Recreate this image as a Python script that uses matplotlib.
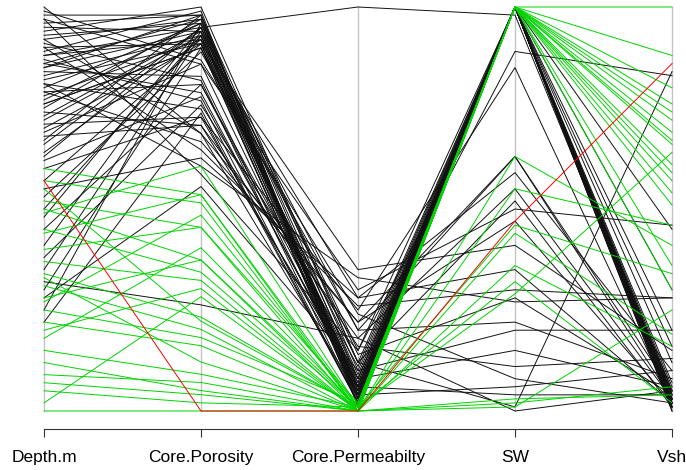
import matplotlib
matplotlib.use("Agg")
import matplotlib.pyplot as plt
import numpy as np

columns = ["Depth.m", "Core.Porosity", "Core.Permeabilty", "SW", "Vsh"]

# rows: depth, porosity, permeability, sw, vsh (already scaled to 0..1)
black_rows = [
    (0.98, 0.97, 0.03, 1.00, 0.02), (0.95, 0.93, 0.05, 1.00, 0.01),
    (0.92, 0.96, 0.02, 1.00, 0.03), (0.90, 0.90, 0.08, 1.00, 0.00),
    (0.88, 0.94, 0.04, 1.00, 0.04), (0.86, 0.78, 0.06, 1.00, 0.02),
    (0.85, 0.97, 0.03, 1.00, 0.01), (0.83, 0.92, 0.09, 1.00, 0.05),
    (0.81, 0.74, 0.02, 1.00, 0.03), (0.80, 0.95, 0.05, 1.00, 0.02),
    (0.78, 0.91, 0.07, 1.00, 0.04), (0.76, 0.89, 0.03, 1.00, 0.01),
    (0.75, 0.96, 0.10, 1.00, 0.06), (0.73, 0.93, 0.04, 1.00, 0.02),
    (0.71, 0.72, 0.06, 1.00, 0.03), (0.70, 0.90, 0.02, 1.00, 0.05),
    (0.68, 0.70, 0.08, 1.00, 0.02), (0.66, 0.94, 0.05, 1.00, 0.01),
    (0.94, 0.99, 0.12, 1.00, 0.04), (0.89, 0.98, 0.01, 1.00, 0.00),
    (0.84, 0.82, 0.04, 1.00, 0.07), (0.79, 0.80, 0.11, 1.00, 0.03),
    (0.64, 0.91, 0.03, 1.00, 0.02), (0.62, 0.77, 0.07, 1.00, 0.04),
    (0.87, 0.76, 0.02, 1.00, 0.01), (0.97, 0.85, 0.06, 1.00, 0.03),
    (0.35, 0.92, 0.04, 1.00, 0.02), (0.30, 0.89, 0.03, 1.00, 0.05),
    (0.25, 0.95, 0.06, 1.00, 0.01), (0.22, 0.73, 0.02, 1.00, 0.03),
    (0.41, 0.93, 0.05, 1.00, 0.02), (0.45, 0.80, 0.08, 1.00, 0.04),
    (0.82, 0.90, 0.05, 1.00, 0.45), (0.77, 0.95, 0.03, 1.00, 0.30),
    (0.72, 0.92, 0.06, 1.00, 0.20), (0.91, 0.81, 0.02, 1.00, 0.12),
    (0.67, 0.97, 0.04, 1.00, 0.16),
    (0.93, 0.95, 0.15, 0.89, 0.83), (0.60, 0.72, 0.25, 0.85, 0.02),
    (0.85, 0.93, 0.20, 0.63, 0.05), (0.88, 0.91, 0.28, 0.59, 0.10),
    (0.74, 0.70, 0.18, 0.55, 0.03), (0.96, 0.97, 0.12, 0.52, 0.01),
    (0.69, 0.85, 0.30, 0.50, 0.46), (0.79, 0.66, 0.22, 0.47, 0.02),
    (0.57, 0.90, 0.35, 0.41, 0.15), (0.90, 0.64, 0.26, 0.30, 0.28),
    (0.63, 0.94, 0.14, 0.28, 0.04), (0.81, 0.60, 0.33, 0.27, 0.28),
    (0.53, 0.88, 0.20, 0.22, 0.08), (0.28, 0.55, 0.10, 0.20, 0.20),
    (0.86, 0.96, 0.08, 0.15, 0.06), (0.38, 0.75, 0.16, 0.11, 0.13),
    (0.99, 0.86, 0.24, 0.08, 0.02), (0.50, 0.92, 0.06, 0.04, 0.04),
    (0.76, 0.89, 0.12, 0.01, 0.84), (0.32, 0.26, 0.18, 0.00, 0.05),
    (0.92, 0.68, 0.04, 0.06, 0.10), (0.55, 0.62, 0.28, 0.35, 0.02),
    (0.48, 0.94, 1.00, 0.98, 0.03), (1.00, 0.68, 0.22, 0.63, 0.03),
    (0.97, 0.58, 0.15, 1.00, 0.02),
]

green_rows = [
    (0.60, 0.53, 0.01, 1.00, 1.00), (0.57, 0.51, 0.00, 1.00, 0.88),
    (0.52, 0.45, 0.02, 1.00, 0.76), (0.50, 0.37, 0.00, 1.00, 0.74),
    (0.45, 0.34, 0.01, 1.00, 0.72), (0.37, 0.32, 0.00, 1.00, 0.69),
    (0.34, 0.23, 0.01, 1.00, 0.66), (0.31, 0.20, 0.00, 1.00, 0.61),
    (0.25, 0.18, 0.02, 1.00, 0.59), (0.22, 0.16, 0.00, 1.00, 0.57),
    (0.15, 0.09, 0.01, 1.00, 0.51), (0.12, 0.05, 0.00, 1.00, 0.36),
    (0.49, 0.60, 0.01, 1.00, 0.30), (0.40, 0.45, 0.00, 0.63, 0.41),
    (0.28, 0.37, 0.01, 0.46, 0.34), (0.20, 0.30, 0.00, 0.44, 0.19),
    (0.07, 0.04, 0.00, 0.36, 0.16), (0.05, 0.02, 0.01, 0.32, 0.02),
    (0.00, 0.00, 0.00, 0.02, 0.06), (0.44, 0.53, 0.00, 0.03, 0.04),
    (0.55, 0.22, 0.01, 0.29, 0.64), (0.33, 0.12, 0.00, 0.55, 0.46),
    (0.18, 0.40, 0.01, 1.00, 0.80), (0.02, 0.28, 0.00, 1.00, 0.54),
    (0.09, 0.07, 0.00, 0.01, 0.25), (0.27, 0.48, 0.01, 1.00, 0.67),
]

red_rows = [
    (0.57, 0.00, 0.00, 0.47, 0.86),
]

groups = [(black_rows, "#111111"), (green_rows, "#00d400"), (red_rows, "#ff0000")]

# rescale every column to 0..1 over all rows, like parcoord does
allrows = np.array(black_rows + green_rows + red_rows)
lo = allrows.min(axis=0)
hi = allrows.max(axis=0)

W, H = 686, 470
fig = plt.figure(figsize=(W / 100, H / 100), dpi=100)
ax = fig.add_axes([0, 0, 1, 1])

# pixel layout: axes at x=44..672, data from y=411 (0) to y=7 (1)
ppu = (672 - 44) / 4
ax.set_xlim(1 - 44 / ppu, 5 + (W - 672) / ppu)
ax.set_ylim((411 - H) / 404, 411 / 404)

xs = np.arange(1, len(columns) + 1)
for x in xs:
    ax.plot([x, x], [0, 1], color="#c4c4c4", lw=1, zorder=1)

for rows, col in groups:
    for r in rows:
        v = (np.array(r) - lo) / (hi - lo)
        ax.plot(xs, v, color=col, lw=0.7, zorder=2)

for s in ["top", "left", "right"]:
    ax.spines[s].set_visible(False)
ax.spines["bottom"].set_position(("data", (411 - 429) / 404))
ax.spines["bottom"].set_bounds(1, 5)
ax.spines["bottom"].set_color("#333333")
ax.set_xticks(xs)
ax.set_xticklabels(columns, fontsize=12.5, family="Liberation Sans")
ax.tick_params(axis="x", direction="out", length=5.8, width=0.8,
               color="#333333", pad=9)
ax.set_yticks([])

fig.savefig("out.png", dpi=100)
